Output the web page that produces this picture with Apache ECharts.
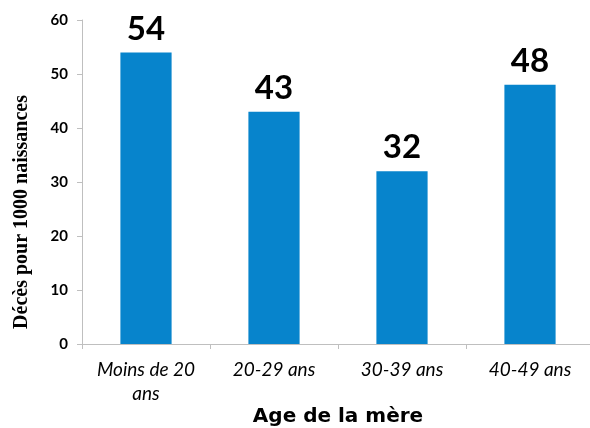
<!DOCTYPE html>
<html>
<head>
<meta charset="utf-8">
<script src="https://cdn.jsdelivr.net/npm/echarts@6/dist/echarts.min.js"></script>
<style>
  html, body { margin: 0; padding: 0; background: #fff; }
  #chart { width: 590px; height: 428px; }
</style>
</head>
<body>
<div id="chart"></div>
<script>
// age groups of the mother
var categories = ['Moins de 20 ans', '20-29 ans', '30-39 ans', '40-49 ans'];
// deaths per 1000 births
var deaths = [54, 43, 32, 48];

var chart = echarts.init(document.getElementById('chart'));

var option = {
  animation: false,
  grid: {
    left: 82,
    top: 20,
    width: 512,
    bottom: 84,
    containLabel: false,
    outerBoundsMode: 'none'
  },
  xAxis: {
    type: 'category',
    data: categories,
    name: 'Age de la mère',
    nameLocation: 'middle',
    nameGap: 63,
    nameMoveOverlap: false,
    nameTextStyle: {
      fontFamily: 'DejaVu Sans',
      fontWeight: 'bold',
      fontSize: 20,
      color: '#000'
    },
    axisLine: { lineStyle: { color: '#bfbfbf' } },
    axisTick: { show: true, length: 5, alignWithLabel: false, lineStyle: { color: '#bfbfbf' } },
    axisLabel: {
      fontFamily: 'Lato',
      fontStyle: 'italic',
      fontSize: 19,
      color: '#000',
      margin: 14,
      lineHeight: 24,
      interval: 0,
      formatter: function (v) { return v.replace('20 ans', '20\nans'); }
    }
  },
  yAxis: {
    type: 'value',
    min: 0,
    max: 60,
    interval: 10,
    name: 'Décès pour 1000 naissances',
    nameLocation: 'middle',
    nameGap: 50,
    nameTextStyle: {
      fontFamily: 'Liberation Serif',
      fontWeight: 'bold',
      fontSize: 20,
      color: '#000',
      padding: [0, 60, 0, 0]
    },
    axisLine: { show: true, lineStyle: { color: '#bfbfbf' } },
    axisTick: { show: true, length: 5, lineStyle: { color: '#bfbfbf' } },
    splitLine: { show: false },
    axisLabel: {
      fontFamily: 'Lato',
      fontWeight: 'bold',
      fontSize: 15,
      color: '#000',
      margin: 14
    }
  },
  series: [{
    type: 'bar',
    data: deaths,
    barWidth: '40%',
    itemStyle: { color: '#0784cc' },
    label: {
      show: true,
      position: 'top',
      distance: 7,
      fontFamily: 'Lato',
      fontWeight: 'bold',
      fontSize: 33,
      color: '#000'
    }
  }]
};

chart.setOption(option);
</script>
</body>
</html>
